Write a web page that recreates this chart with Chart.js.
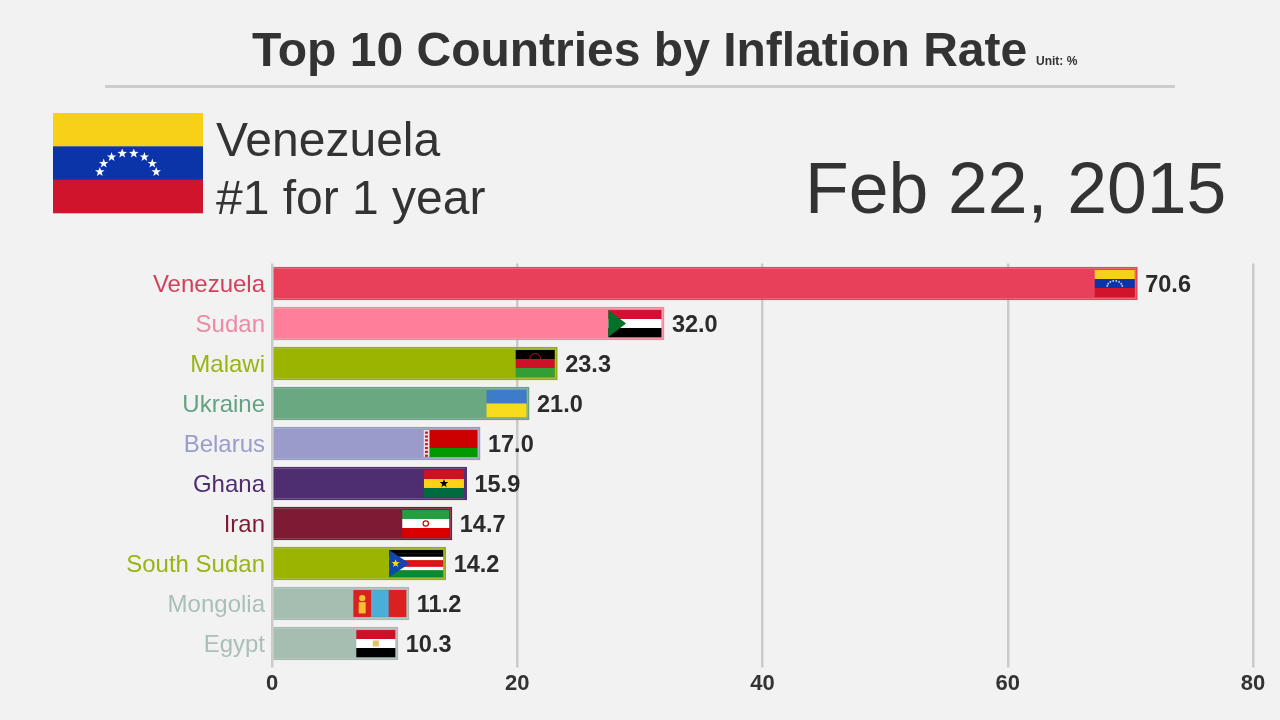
<!DOCTYPE html>
<html>
<head>
<meta charset="utf-8">
<title>Top 10 Countries by Inflation Rate</title>
<script src="https://cdn.jsdelivr.net/npm/chart.js@4/dist/chart.umd.min.js"></script>
<style>
    html, body { margin: 0; padding: 0; background: #f2f2f2; }
    #stage { position: relative; width: 1280px; height: 720px; overflow: hidden; font-family: "Liberation Sans", Arial, sans-serif; color: #333; }
    #chart { position: absolute; left: 0; top: 0; }
    .txt { position: absolute; white-space: nowrap; line-height: 1; }
    #title { left: 252px; top: 26px; font-size: 48px; font-weight: bold; }
    #unit { left: 1036px; top: 55px; font-size: 12px; font-weight: bold; }
    #rule { position: absolute; left: 105px; top: 85px; width: 1070px; height: 3px; background: #cdcdcd; }
    #leader { left: 216px; top: 116px; font-size: 48px; }
    #span { left: 216px; top: 174px; font-size: 48px; }
    #date { left: 805px; top: 153px; font-size: 71.5px; }
</style>
</head>
<body>
<div id="stage">
    <canvas id="chart" width="1280" height="720"></canvas>
    <div class="txt" id="title">Top 10 Countries by Inflation Rate</div>
    <div class="txt" id="unit">Unit: %</div>
    <div id="rule"></div>
    <div class="txt" id="leader">Venezuela</div>
    <div class="txt" id="span">#1 for 1 year</div>
    <div class="txt" id="date">Feb 22, 2015</div>
</div>
<script>
const countries = ['Venezuela', 'Sudan', 'Malawi', 'Ukraine', 'Belarus', 'Ghana', 'Iran', 'South Sudan', 'Mongolia', 'Egypt'];
const inflation = [70.6, 32.0, 23.3, 21.0, 17.0, 15.9, 14.7, 14.2, 11.2, 10.3];
const barColors = ['#e8405b', '#ff7f9a', '#9ab400', '#6aa881', '#9b9bcb', '#4f2d71', '#7e1a33', '#9ab400', '#a6bdb2', '#a6bdb2'];
const edgeColors = ['#e8465f', '#f5859c', '#94ae10', '#6aa284', '#8f9cc4', '#4d3272', '#781a32', '#94ae10', '#a7bab2', '#a7bab2'];
const labelColors = ['#d2405c', '#ec8aa4', '#9ab414', '#63a283', '#9a9ccc', '#4f2d71', '#7e1a33', '#9ab414', '#aabfb8', '#aabfb8'];
const flagWidths = [40, 53, 39, 40, 54, 40, 47, 54, 53, 39];
const axisTicks = [0, 20, 40, 60, 80];

function stripes(c, x, y, w, h, colors) {
    colors.forEach((color, i) => {
        c.fillStyle = color;
        c.fillRect(x, y + h * i / colors.length, w, h / colors.length + 0.3);
    });
}

function star(c, cx, cy, r, color) {
    c.fillStyle = color;
    c.beginPath();
    for (let i = 0; i < 10; i++) {
        const rad = i % 2 ? r * 0.4 : r;
        const a = -Math.PI / 2 + i * Math.PI / 5;
        c.lineTo(cx + rad * Math.cos(a), cy + rad * Math.sin(a));
    }
    c.closePath();
    c.fill();
}

function triangle(c, x, y, w, h, color) {
    c.fillStyle = color;
    c.beginPath();
    c.moveTo(x, y);
    c.lineTo(x + w, y + h / 2);
    c.lineTo(x, y + h);
    c.closePath();
    c.fill();
}

// un dessin par drapeau
const flags = {
    'Venezuela': (c, x, y, w, h) => {
        stripes(c, x, y, w, h, ['#f7d117', '#0a34a8', '#cf142b']);
        for (let i = 0; i < 8; i++) {
            const a = Math.PI * (1.045 + i * 0.13);
            star(c, x + w / 2 + w * 0.19 * Math.cos(a), y + h * 0.62 + h * 0.22 * Math.sin(a), h * 0.05, '#fff');
        }
    },
    'Sudan': (c, x, y, w, h) => {
        stripes(c, x, y, w, h, ['#d21034', '#fff', '#000']);
        triangle(c, x, y, w / 3, h, '#007229');
    },
    'Malawi': (c, x, y, w, h) => {
        stripes(c, x, y, w, h, ['#000', '#ce1126', '#339e35']);
        c.strokeStyle = '#a5202c';
        c.lineWidth = 1;
        c.beginPath();
        c.arc(x + w / 2, y + h * 0.33, h * 0.2, Math.PI, 0);
        c.stroke();
    },
    'Ukraine': (c, x, y, w, h) => stripes(c, x, y, w, h, ['#3e7cc9', '#f7dc1e']),
    'Belarus': (c, x, y, w, h) => {
        c.fillStyle = '#cc0000';
        c.fillRect(x, y, w, h * 2 / 3);
        c.fillStyle = '#009900';
        c.fillRect(x, y + h * 2 / 3, w, h / 3);
        c.fillStyle = '#f2e4e4';
        c.fillRect(x, y, w / 9, h);
        c.fillStyle = '#c42030';
        for (let i = 0; i < 7; i++) {
            c.fillRect(x + 1.5, y + 1.5 + i * h / 7, w / 9 - 3, h / 12);
        }
    },
    'Ghana': (c, x, y, w, h) => {
        stripes(c, x, y, w, h, ['#ce1126', '#fcd116', '#006b3f']);
        star(c, x + w / 2, y + h / 2, h * 0.17, '#000');
    },
    'Iran': (c, x, y, w, h) => {
        stripes(c, x, y, w, h, ['#239f40', '#fff', '#da0000']);
        c.strokeStyle = '#da0000';
        c.lineWidth = 1.2;
        c.beginPath();
        c.arc(x + w / 2, y + h / 2, h * 0.1, 0, Math.PI * 2);
        c.stroke();
    },
    'South Sudan': (c, x, y, w, h) => {
        stripes(c, x, y, w, h, ['#000', '#000', '#fff', '#da121a', '#da121a', '#fff', '#078930', '#078930']);
        triangle(c, x, y, w * 0.38, h, '#0f47af');
        star(c, x + w * 0.12, y + h / 2, h * 0.16, '#fcdd09');
    },
    'Mongolia': (c, x, y, w, h) => {
        c.fillStyle = '#da2020';
        c.fillRect(x, y, w, h);
        c.fillStyle = '#4aaed9';
        c.fillRect(x + w / 3, y, w / 3, h);
        c.fillStyle = '#f2c230';
        c.fillRect(x + w / 6 - 3.5, y + h * 0.45, 7, h * 0.42);
        c.beginPath();
        c.arc(x + w / 6, y + h * 0.3, 3.2, 0, Math.PI * 2);
        c.fill();
    },
    'Egypt': (c, x, y, w, h) => {
        stripes(c, x, y, w, h, ['#ce1126', '#fff', '#000']);
        c.fillStyle = '#e0c068';
        c.fillRect(x + w / 2 - 3, y + h / 2 - 3, 6, 6);
    }
};

const barDecorations = {
    id: 'barDecorations',
    afterDatasetsDraw(chart) {
        const c = chart.ctx;
        const bars = chart.getDatasetMeta(0).data;
        bars.forEach((bar, i) => {
            const w = flagWidths[i];
            const h = bar.height - 6.5;
            flags[countries[i]](c, bar.x - 3 - w, bar.y - h / 2, w, h);
            c.save();
            c.font = 'bold 23.5px "Liberation Sans", Arial, sans-serif';
            c.fillStyle = '#2b2b2b';
            c.textAlign = 'left';
            c.textBaseline = 'middle';
            c.fillText(inflation[i].toFixed(1), bar.x + 7.5, bar.y + 2);
            c.restore();
        });
        // grand drapeau du pays en tête
        flags[countries[0]](c, 53, 113, 150, 100);
    }
};

new Chart(document.getElementById('chart').getContext('2d'), {
    type: 'bar',
    data: {
        labels: countries,
        datasets: [{
            data: inflation,
            backgroundColor: barColors,
            borderColor: edgeColors,
            borderWidth: 2,
            barPercentage: 0.835,
            categoryPercentage: 1
        }]
    },
    options: {
        indexAxis: 'y',
        responsive: false,
        animation: false,
        layout: { padding: { top: 263.5, right: 27, left: 0, bottom: 0 } },
        plugins: { legend: { display: false }, tooltip: { enabled: false } },
        scales: {
            x: {
                min: 0,
                max: 80,
                afterBuildTicks: scale => { scale.ticks = axisTicks.map(value => ({ value })); },
                afterFit: scale => { scale.height = 56.5; },
                border: { display: false },
                grid: { color: '#cbcbcb', lineWidth: 2.5, tickLength: 4, tickColor: '#cbcbcb' },
                ticks: {
                    color: '#333',
                    padding: 3,
                    maxRotation: 0,
                    font: { family: '"Liberation Sans", Arial, sans-serif', size: 22, weight: 'bold' }
                }
            },
            y: {
                afterFit: scale => { scale.width = 272; },
                border: { display: false },
                grid: { display: false, drawTicks: false },
                ticks: {
                    color: ctx => labelColors[ctx.index],
                    padding: 7,
                    labelOffset: 2,
                    font: { family: '"Liberation Sans", Arial, sans-serif', size: 24 }
                }
            }
        }
    },
    plugins: [barDecorations]
});
</script>
</body>
</html>
